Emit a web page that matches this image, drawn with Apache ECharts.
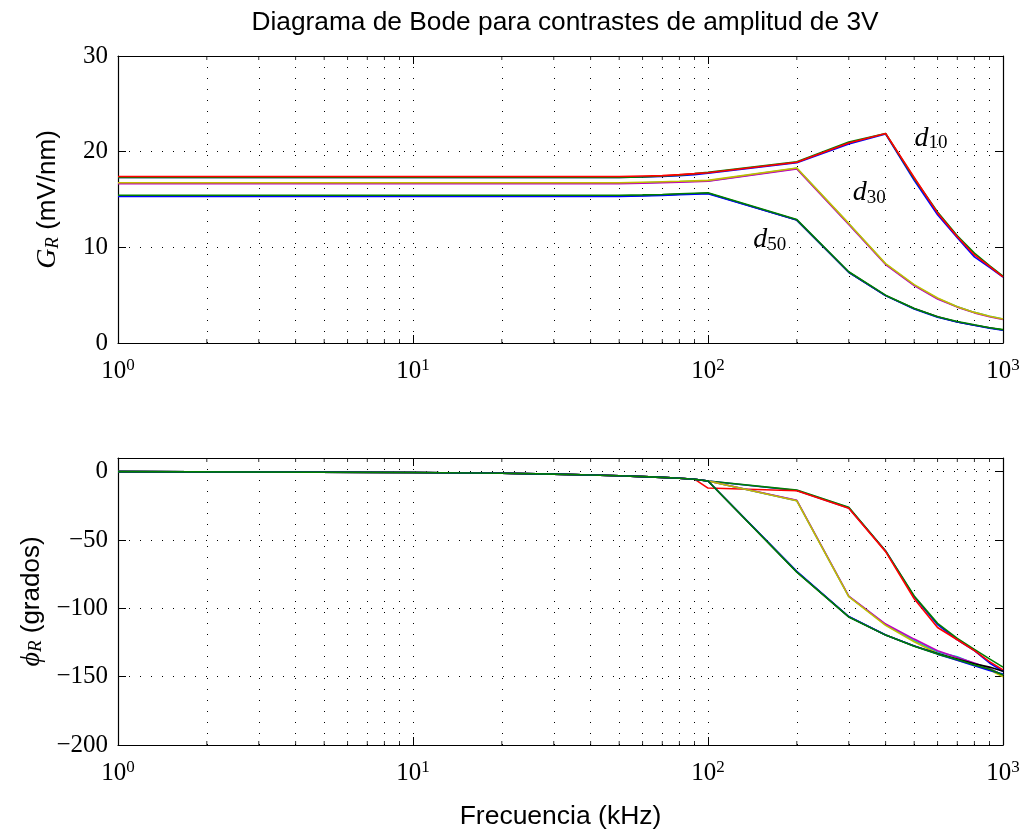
<!DOCTYPE html>
<html><head><meta charset="utf-8">
<script src="https://cdn.jsdelivr.net/npm/echarts/dist/echarts.min.js"></script>
<style>html,body{margin:0;padding:0;background:#fff}#c{width:1026px;height:830px}</style>
</head><body><div id="c"></div><script>
// Frequencies (kHz)
const freq = [1, 10, 20, 30, 40, 50, 60, 70, 80, 90, 100, 200, 300, 400, 500, 600, 700, 800, 900, 1000];

// Gain G_R (mV/nm)
const gainD10b = [17.3, 17.3, 17.3, 17.3, 17.3, 17.3, 17.35, 17.4, 17.5, 17.6, 17.75, 18.85, 20.8, 21.85, 17.0, 13.4, 11.0, 9.0, 7.9, 6.9];
const gainD10g = [17.3, 17.3, 17.3, 17.3, 17.3, 17.3, 17.35, 17.45, 17.55, 17.7, 17.85, 18.95, 21.0, 21.9, 17.2, 13.7, 11.2, 9.4, 8.1, 7.0];
const gainD10r = [17.4, 17.4, 17.4, 17.4, 17.4, 17.4, 17.45, 17.5, 17.6, 17.7, 17.8, 18.9, 20.9, 21.9, 17.3, 13.6, 11.1, 9.2, 8.0, 6.9];
const gainD30c = [16.7, 16.7, 16.7, 16.7, 16.7, 16.7, 16.75, 16.8, 16.85, 16.9, 16.95, 18.25, 12.45, 8.25, 6.05, 4.65, 3.8, 3.2, 2.8, 2.5];
const gainD30m = [16.65, 16.65, 16.65, 16.65, 16.65, 16.65, 16.7, 16.75, 16.8, 16.85, 16.9, 18.2, 12.4, 8.2, 6.0, 4.6, 3.75, 3.15, 2.75, 2.45];
const gainD30y = [16.75, 16.75, 16.75, 16.75, 16.75, 16.75, 16.8, 16.85, 16.9, 16.95, 17.0, 18.3, 12.5, 8.3, 6.1, 4.7, 3.8, 3.2, 2.8, 2.5];
const gainD50k = [15.38, 15.38, 15.38, 15.38, 15.38, 15.38, 15.42, 15.48, 15.55, 15.6, 15.65, 12.85, 7.4, 4.95, 3.6, 2.75, 2.2, 1.85, 1.6, 1.35];
const gainD50b = [15.33, 15.33, 15.33, 15.33, 15.33, 15.33, 15.38, 15.43, 15.5, 15.55, 15.6, 12.85, 7.4, 4.95, 3.55, 2.7, 2.2, 1.85, 1.55, 1.35];
const gainD50g = [15.44, 15.44, 15.44, 15.44, 15.44, 15.44, 15.48, 15.53, 15.6, 15.65, 15.7, 12.9, 7.45, 5.0, 3.6, 2.75, 2.25, 1.9, 1.6, 1.4];

// Phase phi_R (grados)
const phaseD10b = [0, -0.6, -1.2, -1.8, -2.4, -3.0, -3.6, -4.2, -4.8, -5.5, -6.8, -13.8, -26.5, -58, -91.5, -112, -123, -131, -140, -146];
const phaseD10g = [0, -0.6, -1.2, -1.8, -2.4, -3.0, -3.6, -4.2, -4.8, -5.5, -6.8, -13.5, -26, -58, -91, -111, -122, -130, -137, -143];
const phaseD10r = [0, -0.6, -1.2, -1.8, -2.4, -3.0, -3.6, -4.2, -4.8, -5.5, -12, -14, -26.7, -58.5, -93, -114, -123, -131, -139, -145];
const phaseD30c = [0, -0.6, -1.2, -1.8, -2.4, -3.0, -3.6, -4.2, -4.8, -5.5, -6.8, -21.2, -91.3, -112, -123.5, -132, -135.4, -140.5, -144, -149];
const phaseD30m = [0, -0.6, -1.2, -1.8, -2.4, -3.0, -3.6, -4.2, -4.8, -5.5, -6.8, -21, -91, -111.5, -122.5, -131, -136, -140, -144, -149];
const phaseD30y = [0, -0.6, -1.2, -1.8, -2.4, -3.0, -3.6, -4.2, -4.8, -5.5, -6.8, -21.3, -91.5, -112.5, -124.5, -133, -138, -141.5, -145, -150];
const phaseD50k = [0, -0.6, -1.2, -1.8, -2.4, -3.0, -3.6, -4.2, -4.8, -5.5, -6.8, -73.3, -106.2, -119.5, -127.5, -133, -137, -140.5, -143, -146];
const phaseD50b = [0, -0.6, -1.2, -1.8, -2.4, -3.0, -3.6, -4.2, -4.8, -5.5, -6.8, -73, -106, -119.5, -127.5, -133.5, -138, -142, -145.5, -148];
const phaseD50g = [0, -0.6, -1.2, -1.8, -2.4, -3.0, -3.6, -4.2, -4.8, -5.5, -6.8, -73.5, -106.3, -119.6, -127.7, -133.5, -137.5, -141.5, -144.5, -148.8];

// Minor tick / minor grid positions on the log axis
const minorX = [2, 3, 4, 5, 6, 7, 8, 9, 20, 30, 40, 50, 60, 70, 80, 90, 200, 300, 400, 500, 600, 700, 800, 900];

// Curve labels
const curveLabels = [
  { sub: '10', f: 570, v: 21.4 },
  { sub: '30', f: 352, v: 15.7 },
  { sub: '50', f: 162, v: 10.8 }
];

const gainSeries = [gainD10b, gainD10g, gainD10r, gainD30c, gainD30m, gainD30y, gainD50k, gainD50b, gainD50g];
const phaseSeries = [phaseD10b, phaseD10g, phaseD10r, phaseD30c, phaseD30m, phaseD30y, phaseD50k, phaseD50b, phaseD50g];
const colors = ['#0000ff', '#008000', '#ff0000', '#00bfbf', '#bf00bf', '#bfbf00', '#000000', '#0000ff', '#008000'];

const SERIF = "'Liberation Serif', 'DejaVu Serif', serif";
const SANS = "'Liberation Sans', Arial, sans-serif";
const dotted = { color: '#000', width: 1, type: [1, 10] };

function pair(vals) { return freq.map((f, i) => [f, vals[i]]); }

const logLabel = {
  fontFamily: SERIF, fontSize: 25, color: '#000', margin: 14,
  formatter: v => '{b|10}{s|' + Math.round(Math.log10(v)) + '}',
  rich: {
    b: { fontFamily: SERIF, fontSize: 25, color: '#000' },
    s: { fontFamily: SERIF, fontSize: 17, color: '#000', verticalAlign: 'top', padding: [0, 0, 12, 0] }
  }
};

function xAxisDef(grid, pos, withLabels, extra) {
  return Object.assign({
    type: 'log', logBase: 10, min: 1, max: 1000, gridIndex: grid, position: pos,
    axisLine: { show: true, onZero: false, lineStyle: { color: '#000', width: 1.2 } },
    axisTick: { show: true, inside: true, length: 8, lineStyle: { color: '#000', width: 1 } },
    axisLabel: withLabels ? logLabel : { show: false },
    splitLine: { show: withLabels, lineStyle: dotted },
    minorTick: { show: false }
  }, extra || {});
}

function yAxisDef(grid, pos, withLabels, min, max, interval, extra) {
  return Object.assign({
    type: 'value', min: min, max: max, interval: interval, gridIndex: grid, position: pos,
    axisLine: { show: true, onZero: false, lineStyle: { color: '#000', width: 1.2 } },
    axisTick: { show: true, inside: true, length: 8, lineStyle: { color: '#000', width: 1 } },
    axisLabel: withLabels ? {
      fontFamily: SERIF, fontSize: 25, color: '#000', margin: 10,
      formatter: v => String(v).replace('-', '\u2212')
    } : { show: false },
    splitLine: { show: withLabels, lineStyle: dotted }
  }, extra || {});
}

const nameRich = {
  i: { fontFamily: SERIF, fontStyle: 'italic', fontSize: 28, color: '#000' },
  s: { fontFamily: SERIF, fontStyle: 'italic', fontSize: 19, color: '#000', verticalAlign: 'bottom', padding: [9, 0, 0, 0] },
  t: { fontFamily: SANS, fontSize: 26, color: '#000' }
};

const series = [];
gainSeries.forEach((vals, i) => {
  const s = {
    type: 'line', xAxisIndex: 0, yAxisIndex: 0, data: pair(vals), showSymbol: false,
    lineStyle: { color: colors[i], width: 1.6 }, itemStyle: { color: colors[i] }, silent: true, z: 3
  };
  if (i === 0) {
    s.markLine = { silent: true, symbol: ['none', 'none'], label: { show: false }, lineStyle: dotted,
      data: minorX.map(v => ({ xAxis: v })), z: 1 };
  }
  if (i === 2) {
    s.markPoint = {
      symbol: 'circle', symbolSize: 0, silent: true,
      label: {
        show: true, position: 'inside',
        formatter: p => '{d|d}{s|' + p.name + '}',
        rich: {
          d: { fontFamily: SERIF, fontStyle: 'italic', fontSize: 28, color: '#000' },
          s: { fontFamily: SERIF, fontSize: 19, color: '#000', verticalAlign: 'bottom', padding: [10, 0, 0, 0] }
        }
      },
      data: curveLabels.map(c => ({ name: c.sub, coord: [c.f, c.v] }))
    };
  }
  series.push(s);
});
phaseSeries.forEach((vals, i) => {
  const s = {
    type: 'line', xAxisIndex: 2, yAxisIndex: 2, data: pair(vals), showSymbol: false,
    lineStyle: { color: colors[i], width: 1.6 }, itemStyle: { color: colors[i] }, silent: true, z: 3
  };
  if (i === 0) {
    s.markLine = { silent: true, symbol: ['none', 'none'], label: { show: false }, lineStyle: dotted,
      data: minorX.map(v => ({ xAxis: v })), z: 1 };
  }
  series.push(s);
});
// minor tick marks along top and bottom edges of each panel
[[0, 0, 0, 30], [2, 2, -200, 10]].forEach(([xi, yi, lo, hi]) => {
  series.push({ type: 'scatter', xAxisIndex: xi, yAxisIndex: yi, silent: true, clip: false,
    symbol: 'rect', symbolSize: [1, 4], symbolOffset: [0, -2], itemStyle: { color: '#000' },
    data: minorX.map(v => [v, lo]) });
  series.push({ type: 'scatter', xAxisIndex: xi, yAxisIndex: yi, silent: true, clip: false,
    symbol: 'rect', symbolSize: [1, 4], symbolOffset: [0, 2], itemStyle: { color: '#000' },
    data: minorX.map(v => [v, hi]) });
});

const option = {
  animation: false,
  backgroundColor: '#fff',
  title: {
    text: 'Diagrama de Bode para contrastes de amplitud de 3V',
    left: 560, top: 5, textAlign: 'center',
    textStyle: { fontFamily: SANS, fontSize: 26.3, fontWeight: 'normal', color: '#000' }
  },
  grid: [
    { left: 118, top: 56, width: 885, height: 287, containLabel: false, outerBoundsMode: 'none' },
    { left: 118, top: 458, width: 885, height: 287, containLabel: false, outerBoundsMode: 'none' }
  ],
  xAxis: [
    xAxisDef(0, 'bottom', true),
    xAxisDef(0, 'top', false),
    xAxisDef(1, 'bottom', true, {
      name: 'Frecuencia (kHz)', nameLocation: 'middle', nameGap: 58,
      nameTextStyle: { fontFamily: SANS, fontSize: 26.5, color: '#000' }
    }),
    xAxisDef(1, 'top', false)
  ],
  yAxis: [
    yAxisDef(0, 'left', true, 0, 30, 10, {
      name: '{i|G}{s|R}{t| (mV/nm)}', nameLocation: 'middle', nameGap: 56, nameRotate: 90,
      nameTextStyle: { fontFamily: SANS, fontSize: 26, color: '#000', rich: nameRich }
    }),
    yAxisDef(0, 'right', false, 0, 30, 10),
    yAxisDef(1, 'left', true, -200, 10, 50, {
      axisLabel: { fontFamily: SERIF, fontSize: 25, color: '#000', margin: 10, showMaxLabel: false,
        formatter: v => (v > 0 ? '' : String(v).replace('-', '\u2212')) },
      name: '{i|\u03d5}{s|R}{t| (grados)}', nameLocation: 'middle', nameGap: 62, nameRotate: 90,
      nameTextStyle: { fontFamily: SANS, fontSize: 26, color: '#000', rich: nameRich }
    }),
    yAxisDef(1, 'right', false, -200, 10, 50)
  ],
  series: series
};

const chart = echarts.init(document.getElementById('c'), null, { renderer: 'canvas' });
chart.setOption(option);
</script></body></html>
